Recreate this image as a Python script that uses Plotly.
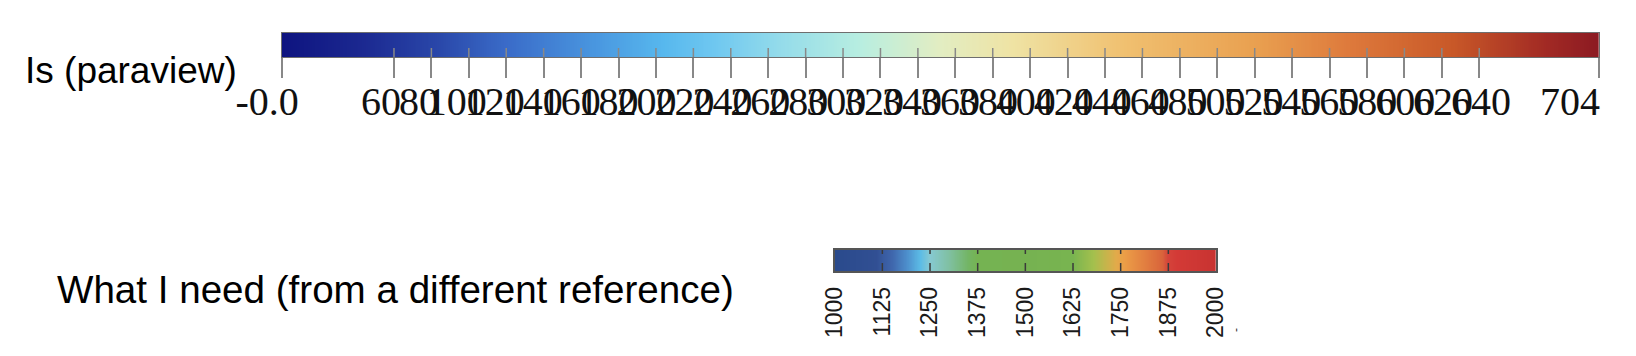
import numpy as np
import plotly.graph_objects as go

W, H = 1636, 356

# ---------------- data ----------------
TOP_TITLE = "Is (paraview)"
TOP_MIN, TOP_MAX = 0, 704
TOP_TICKS = [0, 60, 80, 100, 120, 140, 160, 180, 200, 220, 240, 260, 280, 300,
             320, 340, 360, 380, 400, 420, 440, 460, 480, 500, 520, 540, 560,
             580, 600, 620, 640, 704]
TOP_INNER_TICKS = TOP_TICKS[1:-1]
TOP_LABEL_VALS = TOP_TICKS[:-1]
TOP_LABELS = ["-0.0"] + [str(v) for v in TOP_TICKS[1:-1]]
TOP_MAX_LABEL = "704"
TOP_COLORSCALE = [
    [0.000, "#0e1480"], [0.060, "#1b2890"], [0.120, "#2a48aa"],
    [0.170, "#3a6bc8"], [0.240, "#4a98e0"], [0.290, "#57b8ee"],
    [0.330, "#70c8f0"], [0.380, "#95dcea"], [0.440, "#b8eee0"],
    [0.500, "#e2edc2"], [0.555, "#efe3a4"], [0.640, "#f0c070"],
    [0.740, "#e9a050"], [0.810, "#de7a3c"], [0.890, "#c85828"],
    [0.960, "#a22a24"], [1.000, "#8c1a22"],
]

BOTTOM_TITLE = "What I need (from a different reference)"
BOT_MIN, BOT_MAX = 1000, 2000
BOT_TICKS = [1000, 1125, 1250, 1375, 1500, 1625, 1750, 1875, 2000]
BOT_LABELS = [str(v) for v in BOT_TICKS]
BOT_COLORSCALE = [
    [0.000, "#2a4a8c"], [0.110, "#314f93"], [0.125, "#37599e"],
    [0.150, "#3f66ac"], [0.190, "#4d8fcc"], [0.225, "#5cbce6"],
    [0.250, "#86c9d2"], [0.300, "#80c0a2"], [0.350, "#73b565"],
    [0.375, "#75b352"], [0.500, "#76b251"], [0.625, "#78b450"],
    [0.680, "#a4c04d"], [0.740, "#e2aa4a"], [0.760, "#ec9e47"],
    [0.860, "#d9643b"], [0.875, "#d4443a"], [0.900, "#d33a36"],
    [1.000, "#c83331"],
]

# ---------------- layout geometry (pixels) ----------------
def px_x(p):
    return p / W

def px_y(p):
    return 1 - p / H

fig = go.Figure()

# top color bar (heatmap spanning the value range)
n_top = TOP_MAX - TOP_MIN
fig.add_trace(go.Heatmap(
    z=[list(np.linspace(TOP_MIN, TOP_MAX, n_top))],
    x0=TOP_MIN + (TOP_MAX - TOP_MIN) / n_top / 2, dx=(TOP_MAX - TOP_MIN) / n_top,
    y=[0], colorscale=TOP_COLORSCALE, zmin=TOP_MIN, zmax=TOP_MAX,
    showscale=False, hoverinfo="skip", xaxis="x", yaxis="y"))

# inner part of the top ticks (drawn inside the bar)
xs, ys = [], []
for t in TOP_INNER_TICKS:
    xs += [t, t, None]
    ys += [-0.5, -0.125, None]
fig.add_trace(go.Scatter(x=xs, y=ys, mode="lines",
                         line=dict(color="#888888", width=1.5),
                         hoverinfo="skip", showlegend=False,
                         xaxis="x", yaxis="y"))

# label axis carrier
fig.add_trace(go.Scatter(x=[None], y=[None], mode="markers", showlegend=False,
                         hoverinfo="skip", xaxis="x3", yaxis="y"))

# bottom color bar
n_bot = 1000
fig.add_trace(go.Heatmap(
    z=[list(np.linspace(BOT_MIN, BOT_MAX, n_bot))],
    x0=BOT_MIN + (BOT_MAX - BOT_MIN) / n_bot / 2, dx=(BOT_MAX - BOT_MIN) / n_bot,
    y=[0], colorscale=BOT_COLORSCALE, zmin=BOT_MIN, zmax=BOT_MAX,
    showscale=False, hoverinfo="skip", xaxis="x2", yaxis="y2"))

xs, ys = [], []
for t in BOT_TICKS[1:-1]:
    xs += [t, t, None]
    ys += [-0.5, 0.5, None]
fig.add_trace(go.Scatter(x=xs, y=ys, mode="lines",
                         line=dict(color="#3a3a3a", width=1.5, dash="8px,9px"),
                         hoverinfo="skip", showlegend=False,
                         xaxis="x2", yaxis="y2"))

serif = "Liberation Serif, Times New Roman, serif"
sans = "Liberation Sans, Arial, Helvetica, sans-serif"

fig.update_layout(
    width=W, height=H, template="none",
    margin=dict(l=0, r=0, t=0, b=0),
    paper_bgcolor="white", plot_bgcolor="rgba(0,0,0,0)",
    showlegend=False,
    xaxis=dict(domain=[px_x(281.7), px_x(1599)], range=[TOP_MIN, TOP_MAX],
               anchor="y", tickmode="array", tickvals=TOP_TICKS,
               showticklabels=False, ticks="outside", ticklen=20,
               tickwidth=1.5, tickcolor="#888888",
               showline=True, mirror=True, linecolor="#6e6e6e", linewidth=1,
               showgrid=False, zeroline=False, automargin=False, fixedrange=True),
    yaxis=dict(domain=[px_y(57), px_y(33)], range=[-0.5, 0.5], anchor="x",
               showticklabels=False, ticks="", showgrid=False, zeroline=False,
               showline=True, mirror=True, linecolor="#6e6e6e", linewidth=1,
               automargin=False, fixedrange=True),
    xaxis3=dict(domain=[px_x(267.2), px_x(1602.4)], range=[TOP_MIN, TOP_MAX],
                anchor="y", tickmode="array", tickvals=TOP_LABEL_VALS,
                ticktext=TOP_LABELS, ticks="", tickangle=0,
                ticklabelstandoff=17,
                tickfont=dict(family=serif, size=40, color="#111111"),
                showline=False, showgrid=False, zeroline=False,
                automargin=False, fixedrange=True),
    xaxis2=dict(domain=[px_x(834.7), px_x(1216)], range=[BOT_MIN, BOT_MAX],
                anchor="y2", tickmode="array", tickvals=BOT_TICKS,
                ticktext=BOT_LABELS, ticks="", tickangle=-90,
                ticklabelstandoff=5,
                tickfont=dict(family=sans, size=23, color="#1a1a1a"),
                showline=True, mirror=True, linecolor="#555555", linewidth=1.5,
                showgrid=False, zeroline=False, automargin=False, fixedrange=True),
    yaxis2=dict(domain=[px_y(271), px_y(250)], range=[-0.5, 0.5], anchor="x2",
                showticklabels=False, ticks="", showgrid=False, zeroline=False,
                showline=True, mirror=True, linecolor="#555555", linewidth=1.5,
                automargin=False, fixedrange=True),
    annotations=[
        dict(text=TOP_TITLE, xref="paper", yref="paper", x=px_x(23), y=px_y(70),
             xanchor="left", yanchor="middle", showarrow=False,
             font=dict(family=sans, size=37, color="#000000")),
        dict(text=BOTTOM_TITLE, xref="paper", yref="paper", x=px_x(55),
             y=px_y(289), xanchor="left", yanchor="middle", showarrow=False,
             font=dict(family=sans, size=38.6, color="#000000")),
        dict(text=TOP_MAX_LABEL, xref="x", yref="paper", x=TOP_MAX,
             y=px_y(101.5), xanchor="right", yanchor="middle", showarrow=False,
             xshift=3, font=dict(family=serif, size=40, color="#111111")),
        dict(text="-", xref="paper", yref="paper", x=px_x(1236), y=px_y(330),
             xanchor="center", yanchor="middle", showarrow=False, textangle=-90,
             font=dict(family=sans, size=12, color="#333333")),
    ],
)

fig.write_html("out.html")
